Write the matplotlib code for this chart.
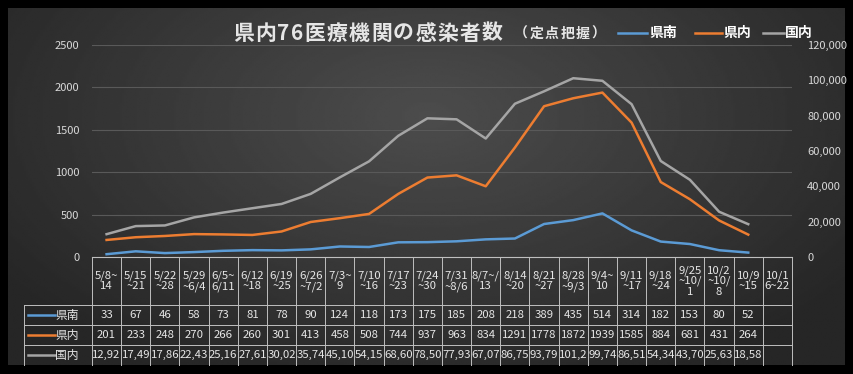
import matplotlib
matplotlib.use("Agg")
import matplotlib.pyplot as plt
import numpy as np

plt.rcParams['font.family'] = ['Noto Sans CJK JP', 'DejaVu Sans']

# week labels (table header)
weeks = ["5/8~\n14", "5/15\n~21", "5/22\n~28", "5/29\n~6/4", "6/5~\n6/11", "6/12\n~18",
         "6/19\n~25", "6/26\n~7/2", "7/3~\n9", "7/10\n~16", "7/17\n~23", "7/24\n~30",
         "7/31\n~8/6", "8/7~/\n13", "8/14\n~20", "8/21\n~27", "8/28\n~9/3", "9/4~\n10",
         "9/11\n~17", "9/18\n~24", "9/25\n~10/\n1", "10/2\n~10/\n8", "10/9\n~15", "10/1\n6~22"]

# weekly cases per sentinel site
kennan = [33, 67, 46, 58, 73, 81, 78, 90, 124, 118, 173, 175, 185, 208, 218, 389, 435,
          514, 314, 182, 153, 80, 52]
kennai = [201, 233, 248, 270, 266, 260, 301, 413, 458, 508, 744, 937, 963, 834, 1291,
          1778, 1872, 1939, 1585, 884, 681, 431, 264]
kokunai = [12920, 17490, 17860, 22430, 25160, 27610, 30020, 35740, 45100, 54150, 68600,
           78500, 77930, 67070, 86750, 93790, 101200, 99740, 86510, 54340, 43700, 25630, 18580]

names = ["県南", "県内", "国内"]
colors = ["#5B9BD5", "#ED7D31", "#A5A5A5"]

W, H = 854, 374
fig = plt.figure(figsize=(W / 100, H / 100), dpi=100, facecolor="black")

# overlay axes in pixel coordinates for background + table
ov = fig.add_axes([0, 0, 1, 1])
ov.set_xlim(0, W)
ov.set_ylim(H, 0)
ov.axis("off")

yy, xx = np.mgrid[0:200, 0:400]
r = np.sqrt(((xx - 200) / 230.0) ** 2 + ((yy - 60) / 150.0) ** 2)
bg = np.clip(0.30 - 0.14 * r, 0.15, 0.30)
ov.imshow(bg, cmap="gray", vmin=0, vmax=1, extent=[8, 845, 365, 8], aspect="auto",
          interpolation="bilinear", zorder=0)

# main axes
L, R, T, B = 92, 792, 45, 257
ax = fig.add_axes([L / W, 1 - B / H, (R - L) / W, (B - T) / H])
ax.set_facecolor("none")
ax2 = ax.twinx()

x = np.arange(len(kennan))
ax.plot(x, kennan, color=colors[0], lw=1.8, zorder=3)
ax.plot(x, kennai, color=colors[1], lw=1.8, zorder=3)
ax2.plot(x, kokunai, color=colors[2], lw=1.8, zorder=3)

ax.set_xlim(-0.5, len(weeks) - 0.5)
ax.set_ylim(0, 2500)
ax2.set_ylim(0, 120000)
ax.set_yticks(np.arange(0, 2501, 500))
ax2.set_yticks(np.arange(0, 120001, 20000))
ax2.set_yticklabels([f"{v:,}" for v in range(0, 120001, 20000)])
ax.set_xticks([])
ax.grid(axis="y", color="#595959", lw=0.8)
for a in (ax, ax2):
    for s in a.spines.values():
        s.set_visible(False)
    a.tick_params(axis="y", length=0, labelsize=8, colors="#D9D9D9", pad=9)
ax2.tick_params(axis="y", pad=11)
ax.spines["bottom"].set_visible(True)
ax.spines["bottom"].set_color("#BFBFBF")
ax.spines["bottom"].set_linewidth(0.8)


def spaced_text(x0, y0, s, gap, **kw):
    rend = fig.canvas.get_renderer()
    for ch in s:
        t = ov.text(x0, y0, ch, ha="left", va="center", **kw)
        x0 += t.get_window_extent(rend).width + gap


# title and legend
spaced_text(233, 33, "県内76医療機関の感染者数", 1.3, fontsize=15, fontweight="bold",
            color="#E6E6E6")
spaced_text(514, 34, "（定点把握）", 1.6, fontsize=10, fontweight="bold", color="#E6E6E6")
for (x0, x1, tx), name, c in zip([(618, 647, 649), (695, 722, 723), (763, 784, 785)], names, colors):
    ov.plot([x0, x1], [33, 33], color=c, lw=1.8)
    ov.text(tx, 33, name, fontsize=10, fontweight="bold", color="white", ha="left", va="center")

# data table
ncol = len(weeks)
cw = (R - L) / ncol
row_y = [257, 305, 325, 345, 365]
lc = "#BFBFBF"
for i in range(ncol + 1):
    xv = L + i * cw
    ov.plot([xv, xv], [row_y[0], row_y[-1]], color=lc, lw=0.7)
ov.plot([24, 24], [row_y[1], row_y[-1]], color=lc, lw=0.7)
for yv in row_y[1:4]:
    ov.plot([24, R], [yv, yv], color=lc, lw=0.7)

for i, w in enumerate(weeks):
    ov.text(L + (i + 0.5) * cw, (row_y[0] + row_y[1]) / 2, w, fontsize=8.2, color="#E6E6E6",
            ha="center", va="center", linespacing=1.05)

rows = [[str(v) for v in kennan], [str(v) for v in kennai], [f"{v:,}"[:5] for v in kokunai]]
for k, (name, c, vals) in enumerate(zip(names, colors, rows)):
    yc = (row_y[k + 1] + row_y[k + 2]) / 2
    ov.plot([28, 55], [yc, yc], color=c, lw=1.8)
    ov.text(55, yc, name, fontsize=8.5, color="#E6E6E6", ha="left", va="center")
    for i, v in enumerate(vals):
        ov.text(L + (i + 0.5) * cw, yc, v, fontsize=8.2, color="#E6E6E6", ha="center", va="center")

fig.savefig("out.png", dpi=100, facecolor="black")
